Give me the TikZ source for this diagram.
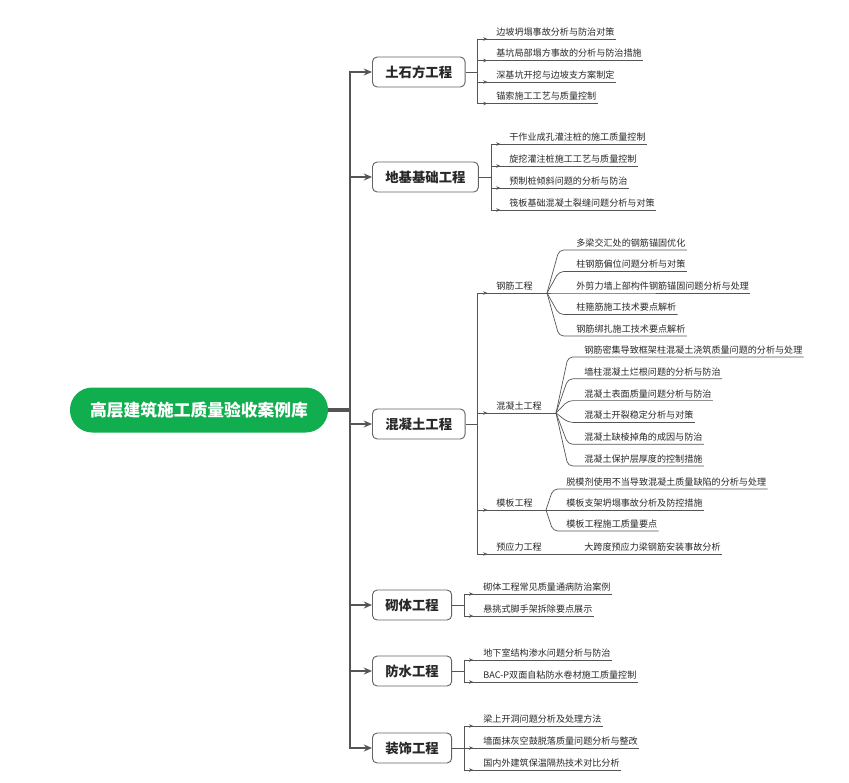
\documentclass[tikz,border=0pt]{standalone}
\usepackage{fontspec}
\setmainfont{Noto Sans CJK SC}
\usetikzlibrary{arrows.meta}

\definecolor{rootgreen}{RGB}{16,174,78}
\definecolor{linegray}{RGB}{85,85,85}
\definecolor{boxgray}{RGB}{100,100,100}
\definecolor{txtgray}{RGB}{40,40,40}

\tikzset{
  rootnode/.style={fill=rootgreen, text=white, rounded corners=19pt, minimum width=7.74cm, minimum height=1.35cm, font=\fontsize{14.3}{16}\selectfont\bfseries},
  topic/.style={anchor=west, draw=boxgray, line width=0.8pt, fill=white, rounded corners=4pt, minimum height=0.9cm, inner xsep=11pt, text=txtgray, font=\fontsize{11.4}{13}\selectfont\bfseries},
  leaf/.style={anchor=south west, inner xsep=1pt, inner ysep=1.6pt, text height=0.86em, text depth=0.12em, text=txtgray, font=\fontsize{7.75}{9}\selectfont},
  trunk/.style={draw=linegray, line width=2.4pt},
  branch/.style={trunk, -{Stealth[length=7pt, width=6pt]}},
  link/.style={draw=linegray, line width=0.8pt},
  tip/.style={link, -{Stealth[length=3.5pt, width=3pt]}},
  uline/.style={draw=linegray, line width=0.6pt},
  fan/.style={uline, rounded corners=4pt},
}

\begin{document}
\begin{tikzpicture}[x=0.03cm, y=-0.03cm]
    \useasboundingbox (0,0) rectangle (849,782);

    % Root and trunk
    \node[rootnode] (root) at (199,410) {高层建筑施工质量验收案例库};
    \coordinate (trk) at (350,410);

    % Main topics
    \node[topic] (tsf) at (372,72) {土石方工程};
    \node[topic] (djj) at (372,177) {地基基础工程};
    \node[topic] (hnt) at (372,424) {混凝土工程};
    \node[topic] (qt) at (372,605) {砌体工程};
    \node[topic] (fs) at (372,671) {防水工程};
    \node[topic] (zs) at (372,748) {装饰工程};

    \draw[trunk, line width=3.2pt] (root.east) -- (trk);
    \foreach \n in {tsf,djj,hnt,qt,fs,zs}
    {
    \draw[branch] (trk) |- (\n.west);
    }

    % Bracket points right of each topic
    \coordinate (tsf-b) at (477,72);
    \coordinate (djj-b) at (491,177);
    \coordinate (hnt-b) at (477,424);
    \coordinate (qt-b) at (464,605);
    \coordinate (fs-b) at (464,671);
    \coordinate (zs-b) at (464,748);
    \foreach \n in {tsf,djj,hnt,qt,fs,zs}
    {
    \draw[link] (\n.east) -- (\n-b);
    }

    % Leaves of the plain topics
    \foreach \txt [count=\i] in {边坡坍塌事故分析与防治对策, 基坑局部塌方事故的分析与防治措施, 深基坑开挖与边坡支方案制定, 锚索施工工艺与质量控制}
    {
    \node[leaf] (tsf-\i) at (495, {39+21.5*(\i-1)}) {\txt};
    \draw[tip] (tsf-b |- tsf-\i.south) -- ([xshift=-6.5pt]tsf-\i.south west);
    \draw[uline] (tsf-b |- tsf-\i.south) -- (tsf-\i.south east);
    }
    \draw[link] (tsf-b |- tsf-1.south) -- (tsf-b |- tsf-4.south);

    \foreach \txt [count=\i] in {干作业成孔灌注桩的施工质量控制, 旋挖灌注桩施工工艺与质量控制, 预制桩倾斜问题的分析与防治, 筏板基础混凝土裂缝问题分析与对策}
    {
    \node[leaf] (djj-\i) at (508, {144+22*(\i-1)}) {\txt};
    \draw[tip] (djj-b |- djj-\i.south) -- ([xshift=-6.5pt]djj-\i.south west);
    \draw[uline] (djj-b |- djj-\i.south) -- (djj-\i.south east);
    }
    \draw[link] (djj-b |- djj-1.south) -- (djj-b |- djj-4.south);

    \foreach \txt [count=\i] in {砌体工程常见质量通病防治案例, 悬挑式脚手架拆除要点展示}
    {
    \node[leaf] (qt-\i) at (482, {594+22*(\i-1)}) {\txt};
    \draw[tip] (qt-b |- qt-\i.south) -- ([xshift=-7.5pt]qt-\i.south west);
    \draw[uline] (qt-b |- qt-\i.south) -- (qt-\i.south east);
    }
    \draw[link] (qt-b |- qt-1.south) -- (qt-b |- qt-2.south);

    \foreach \txt [count=\i] in {地下室结构渗水问题分析与防治, BAC-P双面自粘防水卷材施工质量控制}
    {
    \node[leaf] (fs-\i) at (482, {660+22*(\i-1)}) {\txt};
    \draw[tip] (fs-b |- fs-\i.south) -- ([xshift=-7.5pt]fs-\i.south west);
    \draw[uline] (fs-b |- fs-\i.south) -- (fs-\i.south east);
    }
    \draw[link] (fs-b |- fs-1.south) -- (fs-b |- fs-2.south);

    \foreach \txt [count=\i] in {梁上开洞问题分析及处理方法, 墙面抹灰空鼓脱落质量问题分析与整改, 国内外建筑保温隔热技术对比分析}
    {
    \node[leaf] (zs-\i) at (482, {726+22*(\i-1)}) {\txt};
    \draw[tip] (zs-b |- zs-\i.south) -- ([xshift=-7.5pt]zs-\i.south west);
    \draw[uline] (zs-b |- zs-\i.south) -- (zs-\i.south east);
    }
    \draw[link] (zs-b |- zs-1.south) -- (zs-b |- zs-3.south);

    % Sub topics of the concrete branch
    \node[leaf] (gj) at (495,293) {钢筋工程};
    \node[leaf] (hn) at (495,413) {混凝土工程};
    \node[leaf] (mb) at (495,510) {模板工程};
    \node[leaf] (yyl) at (495,554) {预应力工程};
    \coordinate (gj-f) at (547,293);
    \coordinate (hn-f) at (556,413);
    \coordinate (mb-f) at (546,510);
    \coordinate (yyl-f) at (556,554);
    \foreach \n in {gj,hn,mb,yyl}
    {
    \draw[tip] (hnt-b |- \n.south) -- ([xshift=-6.5pt]\n.south west);
    \draw[uline] (hnt-b |- \n.south) -- (\n-f);
    }
    \draw[link] (hnt-b |- gj.south) -- (hnt-b |- yyl.south);

    % Fans of the sub topics
    \coordinate (gj-k) at (559,293);
    \foreach \txt [count=\i] in {多梁交汇处的钢筋锚固优化, 柱钢筋偏位问题分析与对策, 外剪力墙上部构件钢筋锚固问题分析与处理, 柱箍筋施工技术要点解析, 钢筋绑扎施工技术要点解析}
    {
    \node[leaf] (gj-\i) at (575, {250+21.5*(\i-1)}) {\txt};
    \draw[fan] (gj-f) -- (gj-k |- gj-\i.south) -- (gj-\i.south east);
    }

    \coordinate (hn-k) at (568,413);
    \foreach \txt [count=\i] in {钢筋密集导致框架柱混凝土浇筑质量问题的分析与处理, 墙柱混凝土烂根问题的分析与防治, 混凝土表面质量问题分析与防治, 混凝土开裂稳定分析与对策, 混凝土缺棱掉角的成因与防治, 混凝土保护层厚度的控制措施}
    {
    \node[leaf] (hn-\i) at (583, {357+21.8*(\i-1)}) {\txt};
    \draw[fan] (hn-f) -- (hn-k |- hn-\i.south) -- (hn-\i.south east);
    }

    \coordinate (mb-k) at (553,510);
    \foreach \txt [count=\i] in {脱模剂使用不当导致混凝土质量缺陷的分析与处理, 模板支架坍塌事故分析及防控措施, 模板工程施工质量要点}
    {
    \node[leaf] (mb-\i) at (565, {489+21*(\i-1)}) {\txt};
    \draw[fan] (mb-f) -- (mb-k |- mb-\i.south) -- (mb-\i.south east);
    }

    \node[leaf] (yyl-1) at (583,554) {大跨度预应力梁钢筋安装事故分析};
    \draw[uline] (yyl-f) -- (yyl-1.south east);
\end{tikzpicture}
\end{document}
